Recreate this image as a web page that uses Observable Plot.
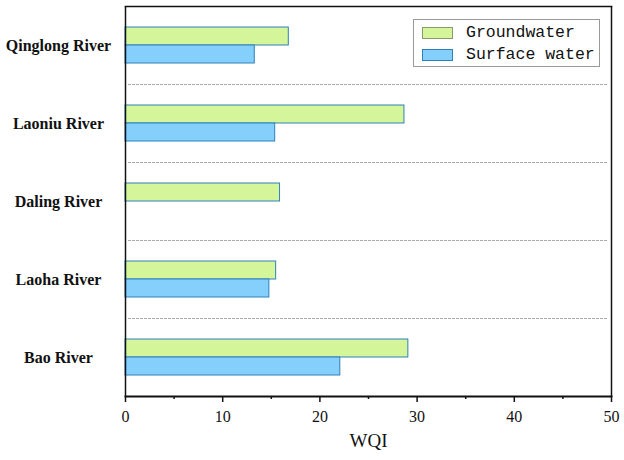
<!DOCTYPE html>
<html>
<head>
<meta charset="utf-8">
<script src="https://cdn.jsdelivr.net/npm/d3@7"></script>
<script src="https://cdn.jsdelivr.net/npm/@observablehq/plot@0.6"></script>
<style>
  body { margin: 0; background: #fff; }
  #wrap { position: relative; width: 624px; height: 460px; }
  .legend { position: absolute; left: 413px; top: 19px; width: 185px; height: 46px;
    border: 1px solid #999; background: #fff; font-family: "Liberation Mono", monospace; font-size: 16.5px; color: #111; }
  .legend .row { display: flex; align-items: center; height: 19px; margin-top: 3px; white-space: nowrap; }
  .legend .sw { width: 29px; height: 10px; margin-left: 8px; margin-right: 13px; flex: none; }
</style>
</head>
<body>
<div id="wrap"></div>
<script>
const rivers = ["Qinglong River", "Laoniu River", "Daling River", "Laoha River", "Bao River"];
const seriesNames = ["Groundwater", "Surface water"];
const groundwater = [16.8, 28.7, 15.9, 15.5, 29.1];
const surfaceWater = [13.3, 15.4, null, 14.8, 22.1];
const xTicks = [0, 10, 20, 30, 40, 50];
const xMinorTicks = [5, 15, 25, 35, 45];
const colors = {"Groundwater": "#d4f59a", "Surface water": "#84cffc"};

const data = [];
rivers.forEach((r, i) => {
  if (groundwater[i] != null) data.push({river: r, series: "Groundwater", value: groundwater[i]});
  if (surfaceWater[i] != null) data.push({river: r, series: "Surface water", value: surfaceWater[i]});
});

const chart = Plot.plot({
  width: 624,
  height: 460,
  marginLeft: 125,
  marginRight: 13,
  marginTop: 5,
  marginBottom: 63,
  style: {fontFamily: "'Liberation Serif', 'Times New Roman', serif", background: "#fff"},
  x: {domain: [0, 50]},
  y: {domain: seriesNames, paddingInner: 0, paddingOuter: 1.06, axis: null},
  fy: {domain: rivers, padding: 0, axis: null},
  marks: [
    Plot.frame({anchor: "bottom", stroke: "#aaa", strokeDasharray: "2,2", insetLeft: 3, insetRight: 3}),
    Plot.barX(data, {x: "value", y: "series", fy: "river", fill: d => colors[d.series], stroke: "#2e80bb", strokeWidth: 1}),
    Plot.ruleX(xTicks.filter(d => d === 0 || d === 50), {stroke: "#111", strokeWidth: 1.5}),
    Plot.frame({anchor: "top", facetAnchor: "top", stroke: "#111", strokeWidth: 1.5}),
    Plot.frame({anchor: "bottom", facetAnchor: "bottom", stroke: "#111", strokeWidth: 2}),
    Plot.axisX({ticks: xTicks, tickSize: 6, tickPadding: 8, fontSize: 16, label: null, stroke: "#111", strokeWidth: 1.5, color: "#111"}),
    Plot.axisX({ticks: xMinorTicks, tickSize: 3, tickFormat: () => "", label: null, stroke: "#111", strokeWidth: 1.5}),
    Plot.axisX({ticks: [], label: "WQI", labelAnchor: "center", labelArrow: "none", labelOffset: 50, fontSize: 19, color: "#111"}),
    Plot.axisFy({anchor: "left", tickSize: 0, tickPadding: 67, textAnchor: "middle", fontSize: 16, fontWeight: "bold", color: "#111", label: null})
  ]
});
document.getElementById("wrap").appendChild(chart);

const legend = document.createElement("div");
legend.className = "legend";
seriesNames.forEach(s => {
  const row = document.createElement("div");
  row.className = "row";
  const sw = document.createElement("div");
  sw.className = "sw";
  sw.style.background = colors[s];
  sw.style.border = "1px solid " + (s === "Groundwater" ? "#8a9a70" : "#2e80bb");
  const t = document.createElement("span");
  t.textContent = s;
  row.appendChild(sw);
  row.appendChild(t);
  legend.appendChild(row);
});
document.getElementById("wrap").appendChild(legend);
</script>
</body>
</html>
